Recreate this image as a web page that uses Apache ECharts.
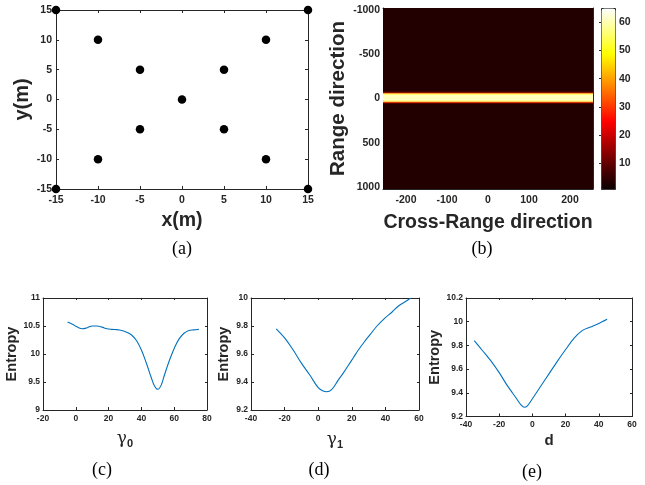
<!DOCTYPE html>
<html><head><meta charset="utf-8">
<script src="https://cdn.jsdelivr.net/npm/echarts@6/dist/echarts.min.js"></script>
<style>html,body{margin:0;padding:0;background:#fff}#c{width:645px;height:485px}</style>
</head><body><div id="c"></div>
<script>
// ---------- (a) target positions ----------
const targetX = [-15, 15, -10, 10, -5, 5, 0, -5, 5, -10, 10, -15, 15];
const targetY = [15, 15, 10, 10, 5, 5, 0, -5, -5, -10, -10, -15, -15];

// ---------- (b) range profile image ----------
const crossRangeExtent = [-256, 256];
const rangeExtent = [-1024, 1024];
const rangeEdges  = [-1024, -78, -66, -56, -40, 20, 36, 48, 60, 1024];
const rangeValues = [3.5, 10, 32, 56, 61, 57, 32, 10, 3.5];
const crossRangeTicks = [-200, -100, 0, 100, 200];
const rangeTicks = [-1000, -500, 0, 500, 1000];
const colorbarTicks = [10, 20, 30, 40, 50, 60];
const colorbarRange = [1, 65];

// ---------- (c) entropy vs gamma0 ----------
const gamma0   = [-5, -2, 1, 4, 7, 10, 13, 16, 19, 22, 25, 28, 31, 34, 37, 40, 43, 46, 48, 50, 52, 54, 57, 60, 63, 66, 69, 72, 75];
const entropyC = [10.57, 10.53, 10.48, 10.45, 10.47, 10.50, 10.50, 10.48, 10.45, 10.44, 10.435, 10.42, 10.39, 10.34, 10.24, 10.07, 9.84, 9.58, 9.43, 9.37, 9.44, 9.62, 9.88, 10.10, 10.27, 10.37, 10.42, 10.43, 10.44];

// ---------- (d) entropy vs gamma1 ----------
const gamma1   = [-25, -20, -15, -10, -5, 0, 3, 5, 8, 12, 15, 18, 21, 24, 28, 31, 35, 40, 44, 48, 52, 55];
const entropyD = [9.78, 9.715, 9.63, 9.535, 9.45, 9.36, 9.335, 9.33, 9.345, 9.415, 9.465, 9.52, 9.575, 9.63, 9.695, 9.74, 9.80, 9.86, 9.90, 9.945, 9.975, 10.0];

// ---------- (e) entropy vs d ----------
const dValues  = [-35, -30, -25, -20, -15, -10, -7, -5, -3, 0, 5, 10, 15, 20, 25, 30, 35, 40, 45];
const entropyE = [9.84, 9.755, 9.67, 9.57, 9.458, 9.36, 9.30, 9.278, 9.29, 9.35, 9.455, 9.56, 9.665, 9.765, 9.86, 9.925, 9.955, 9.985, 10.02];

const hotColors = ['#0b0000', '#550000', '#aa0000', '#ff0000', '#ff5500', '#ffaa00', '#ffff00', '#ffff80', '#ffffff'];

const AX = '#262626';
const SANS = 'Liberation Sans';
const zip = (a, b) => a.map((v, i) => [v, b[i]]);

function axis(o) {
  const fs = o.fs || 10.5;
  const base = {
    type: 'value', gridIndex: o.grid, min: o.min, max: o.max,
    position: o.pos, inverse: !!o.inverse,
    axisLine: { show: true, onZero: false, lineStyle: { color: AX, width: 1 } },
    axisTick: { show: true, inside: true, length: o.tickLen || 3, lineStyle: { color: AX, width: 1 } },
    axisLabel: { show: !o.noLabel, color: AX, fontFamily: SANS, fontWeight: 'bold', fontSize: fs, margin: o.margin || 4,
                 formatter: v => String(v) },
    splitLine: { show: false }
  };
  if (o.interval !== undefined) base.interval = o.interval;
  if (o.custom) {
    base.axisLabel.customValues = o.custom;
    base.axisTick.customValues = o.custom;
  }
  if (o.name) {
    base.name = o.name;
    base.nameLocation = 'middle';
    base.nameGap = o.nameGap;
    base.nameTextStyle = Object.assign({ color: AX, fontFamily: SANS, fontWeight: 'bold', fontSize: o.nameSize || 19 }, o.nameStyle || {});
  }
  return base;
}

const grids = [
  { left: 56, top: 10, width: 252, height: 179 },      // a
  { left: 383, top: 8, width: 210, height: 181 },      // b
  { left: 601, top: 8, width: 14, height: 181 },       // colorbar
  { left: 43, top: 298, width: 164, height: 112 },     // c
  { left: 251, top: 298, width: 168, height: 112 },    // d
  { left: 466, top: 298, width: 166, height: 118.5 }   // e
];

const gammaRich = {
  g: { fontFamily: 'DejaVu Serif', fontWeight: 'normal', fontSize: 17, color: AX },
  s: { fontFamily: SANS, fontWeight: 'bold', fontSize: 11, color: AX, padding: [10, 0, 0, 0] }
};

const xAxes = [
  axis({ grid: 0, min: -15, max: 15, interval: 5, pos: 'bottom', margin: 6, name: 'x(m)', nameGap: 22, nameSize: 19.5 }),
  axis({ grid: 0, min: -15, max: 15, interval: 5, pos: 'top', noLabel: true }),
  axis({ grid: 1, min: crossRangeExtent[0], max: crossRangeExtent[1], custom: crossRangeTicks, pos: 'bottom', margin: 6, name: 'Cross-Range direction', nameGap: 24, nameSize: 19.5 }),
  axis({ grid: 1, min: crossRangeExtent[0], max: crossRangeExtent[1], custom: crossRangeTicks, pos: 'top', noLabel: true }),
  Object.assign(axis({ grid: 2, min: 0, max: 1, pos: 'bottom', noLabel: true }), { show: false }),
  axis({ grid: 3, min: -20, max: 80, interval: 20, pos: 'bottom', fs: 8.5, margin: 4, name: '{g|γ}{s|0}', nameGap: 18, nameStyle: { rich: gammaRich } }),
  axis({ grid: 3, min: -20, max: 80, interval: 20, pos: 'top', noLabel: true, tickLen: 2 }),
  axis({ grid: 4, min: -40, max: 60, interval: 20, pos: 'bottom', fs: 8.5, margin: 4, name: '{g|γ}{s|1}', nameGap: 19, nameStyle: { rich: gammaRich } }),
  axis({ grid: 4, min: -40, max: 60, interval: 20, pos: 'top', noLabel: true, tickLen: 2 }),
  axis({ grid: 5, min: -40, max: 60, interval: 20, pos: 'bottom', fs: 8.5, margin: 4, name: 'd', nameGap: 17, nameSize: 15 }),
  axis({ grid: 5, min: -40, max: 60, interval: 20, pos: 'top', noLabel: true, tickLen: 2 })
];

const yAxes = [
  axis({ grid: 0, min: -15, max: 15, interval: 5, pos: 'left', margin: 4, name: 'y(m)', nameGap: 15, nameSize: 20 }),
  axis({ grid: 0, min: -15, max: 15, interval: 5, pos: 'right', noLabel: true }),
  axis({ grid: 1, min: rangeExtent[0], max: rangeExtent[1], inverse: true, custom: rangeTicks, pos: 'left', margin: 3, name: 'Range direction', nameGap: 29, nameSize: 20.5 }),
  axis({ grid: 1, min: rangeExtent[0], max: rangeExtent[1], inverse: true, custom: rangeTicks, pos: 'right', noLabel: true }),
  Object.assign(axis({ grid: 2, min: colorbarRange[0], max: colorbarRange[1], custom: colorbarTicks, pos: 'right', margin: 4, tickLen: 2 }), { axisLine: { show: false } }),
  axis({ grid: 3, min: 9, max: 11, interval: 0.5, pos: 'left', fs: 8.5, margin: 3, name: 'Entropy', nameGap: 24, nameSize: 14.5 }),
  axis({ grid: 3, min: 9, max: 11, interval: 0.5, pos: 'right', noLabel: true, tickLen: 2 }),
  axis({ grid: 4, min: 9.2, max: 10, interval: 0.2, pos: 'left', fs: 8.5, margin: 3, name: 'Entropy', nameGap: 20, nameSize: 14.5 }),
  axis({ grid: 4, min: 9.2, max: 10, interval: 0.2, pos: 'right', noLabel: true, tickLen: 2 }),
  axis({ grid: 5, min: 9.2, max: 10.2, interval: 0.2, pos: 'left', fs: 8.5, margin: 3, name: 'Entropy', nameGap: 21, nameSize: 14.5 }),
  axis({ grid: 5, min: 9.2, max: 10.2, interval: 0.2, pos: 'right', noLabel: true, tickLen: 2 })
];

const heatRows = rangeValues.map((v, i) => [rangeEdges[i], rangeEdges[i + 1], v]);
const lineColor = '#0072BD';

const series = [
  { type: 'scatter', xAxisIndex: 0, yAxisIndex: 0, symbolSize: 8.5, itemStyle: { color: '#000', opacity: 1 }, data: zip(targetX, targetY), clip: false, silent: true },
  {
    type: 'custom', xAxisIndex: 2, yAxisIndex: 2, clip: true, silent: true,
    encode: { y: [0, 1] },
    renderItem: function (params, api) {
      const p0 = api.coord([crossRangeExtent[0], api.value(0)]);
      const p1 = api.coord([crossRangeExtent[1], api.value(1)]);
      return {
        type: 'rect',
        shape: { x: p0[0], y: Math.min(p0[1], p1[1]), width: p1[0] - p0[0], height: Math.abs(p1[1] - p0[1]) + 0.5 },
        style: { fill: api.visual('color') }
      };
    },
    data: heatRows
  },
  { type: 'line', xAxisIndex: 5, yAxisIndex: 5, data: zip(gamma0, entropyC), smooth: 0.4, showSymbol: false, lineStyle: { color: lineColor, width: 1.1 }, silent: true },
  { type: 'line', xAxisIndex: 7, yAxisIndex: 7, data: zip(gamma1, entropyD), smooth: 0.4, showSymbol: false, lineStyle: { color: lineColor, width: 1.1 }, silent: true },
  { type: 'line', xAxisIndex: 9, yAxisIndex: 9, data: zip(dValues, entropyE), smooth: 0.3, showSymbol: false, lineStyle: { color: lineColor, width: 1.1 }, silent: true }
];

const option = {
  animation: false,
  backgroundColor: '#fff',
  grid: grids,
  xAxis: xAxes,
  yAxis: yAxes,
  visualMap: {
    type: 'continuous', seriesIndex: 1, dimension: 2,
    min: colorbarRange[0], max: colorbarRange[1],
    inRange: { color: hotColors },
    calculable: false, hoverLink: false,
    left: 601, top: 8, itemWidth: 14, itemHeight: 181, padding: 0,
    borderColor: AX, borderWidth: 1, text: null, showLabel: false
  },
  series: series,
  graphic: [
    { type: 'text', x: 182, y: 240, style: { text: '(a)', fontFamily: 'Liberation Serif', fontSize: 18, fill: '#000', align: 'center' } },
    { type: 'text', x: 482, y: 240, style: { text: '(b)', fontFamily: 'Liberation Serif', fontSize: 18, fill: '#000', align: 'center' } },
    { type: 'text', x: 102, y: 461, style: { text: '(c)', fontFamily: 'Liberation Serif', fontSize: 18, fill: '#000', align: 'center' } },
    { type: 'text', x: 319, y: 461, style: { text: '(d)', fontFamily: 'Liberation Serif', fontSize: 18, fill: '#000', align: 'center' } },
    { type: 'text', x: 532, y: 463, style: { text: '(e)', fontFamily: 'Liberation Serif', fontSize: 18, fill: '#000', align: 'center' } }
  ]
};

const chart = echarts.init(document.getElementById('c'), null, { renderer: 'canvas' });
chart.setOption(option);
</script>
</body></html>
